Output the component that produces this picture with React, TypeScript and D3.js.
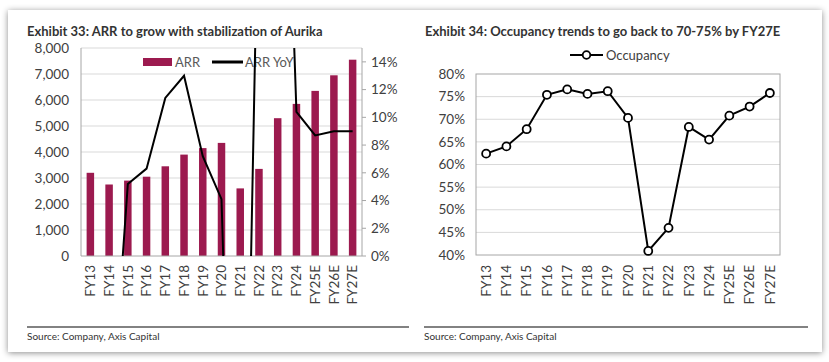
import React from "react";
import * as d3 from "d3";

const categories = [
  "FY13", "FY14", "FY15", "FY16", "FY17", "FY18", "FY19", "FY20",
  "FY21", "FY22", "FY23", "FY24", "FY25E", "FY26E", "FY27E",
];

// ARR (Rs), bars on left axis
const arr = [3200, 2750, 2900, 3050, 3450, 3900, 4150, 4350, 2600, 3350, 5300, 5850, 6350, 6950, 7550];

// ARR YoY (%), right axis; values outside 0-15% get clipped like in the source
const arrYoY: (number | null)[] = [null, -14, 5.2, 6.3, 11.4, 13.0, 7.2, 4.1, -40, 29, 50, 10.4, 8.7, 9.0, 9.0];

// Occupancy (%)
const occupancy = [62.4, 64.0, 67.8, 75.4, 76.6, 75.6, 76.2, 70.3, 40.9, 46.0, 68.3, 65.5, 70.8, 72.8, 75.8];

const arrTicks = [0, 1000, 2000, 3000, 4000, 5000, 6000, 7000, 8000];
const yoyTicks = [0, 2, 4, 6, 8, 10, 12, 14];
const occTicks = [40, 45, 50, 55, 60, 65, 70, 75, 80];

const FONT = "Lato, 'Open Sans', sans-serif";
const BAR = "#9c1a4f";
const TXT = "#404040";
const GRID = "#d9d9d9";
const AXIS = "#a6a6a6";

const fmt = d3.format(",");

function LeftChart() {
  const x0 = 81, x1 = 362, yTop = 48, yBot = 256;
  const x = d3.scaleBand<string>().domain(categories).range([x0, x1]).paddingInner(0.6).paddingOuter(0.3);
  const y = d3.scaleLinear().domain([0, 8000]).range([yBot, yTop]);
  const y2 = d3.scaleLinear().domain([0, 15]).range([yBot, yTop]);
  const cx = (c: string) => (x(c) as number) + x.bandwidth() / 2;

  const line = d3
    .line<number | null>()
    .defined((d) => d !== null)
    .x((_, i) => cx(categories[i]))
    .y((d) => y2(d as number));

  return (
    <g>
      <text x={27} y={36} fontSize={13} fontWeight="bold" fill="#333">
        Exhibit 33: ARR to grow with stabilization of Aurika
      </text>

      {arrTicks.slice(1).map((t) => (
        <line key={t} x1={x0} x2={x1} y1={y(t)} y2={y(t)} stroke={GRID} strokeWidth={1} />
      ))}

      {arr.map((v, i) => (
        <rect
          key={categories[i]}
          x={x(categories[i])}
          y={y(v)}
          width={x.bandwidth()}
          height={yBot - y(v)}
          fill={BAR}
        />
      ))}

      <line x1={x0} x2={x0} y1={yTop} y2={yBot} stroke={AXIS} />
      <line x1={x1} x2={x1} y1={yTop} y2={yBot} stroke={AXIS} />
      <line x1={x0} x2={x1} y1={yBot} y2={yBot} stroke={AXIS} />

      {arrTicks.map((t) => (
        <text key={t} x={69} y={y(t)} dy="0.35em" textAnchor="end" fontSize={13.5} fill={TXT}>
          {fmt(t)}
        </text>
      ))}

      {yoyTicks.map((t) => (
        <g key={t}>
          <line x1={x1} x2={x1 + 4} y1={y2(t)} y2={y2(t)} stroke={AXIS} />
          <text x={371} y={y2(t)} dy="0.35em" fontSize={13.5} fill={TXT}>
            {t}%
          </text>
        </g>
      ))}

      {categories.map((c) => (
        <text
          key={c}
          transform={`translate(${cx(c)},265) rotate(-90)`}
          dy="0.35em"
          textAnchor="end"
          fontSize={13.5}
          fill={TXT}
        >
          {c}
        </text>
      ))}

      {/* legend */}
      <rect x={143} y={58} width={29} height={8} fill={BAR} />
      <text x={175} y={62} dy="0.35em" fontSize={13} fill="#595959">ARR</text>
      <line x1={212} x2={243} y1={62} y2={62} stroke="#000" strokeWidth={3} />
      <text x={245} y={62} dy="0.35em" fontSize={13} fill="#595959">ARR YoY</text>

      <defs>
        <clipPath id="leftClip">
          <rect x={x0} y={yTop} width={x1 - x0} height={yBot - yTop} />
        </clipPath>
      </defs>
      <path
        d={line(arrYoY) || ""}
        fill="none"
        stroke="#000"
        strokeWidth={2}
        clipPath="url(#leftClip)"
      />

      <line x1={27} x2={409} y1={327} y2={327} stroke="#595959" strokeWidth={1.5} />
      <text x={27} y={340} fontSize={10} fill="#333">Source: Company, Axis Capital</text>
    </g>
  );
}

function RightChart() {
  const x0 = 476, x1 = 780, yTop = 74, yBot = 255;
  const x = d3.scalePoint<string>().domain(categories).range([x0, x1]).padding(0.5);
  const y = d3.scaleLinear().domain([40, 80]).range([yBot, yTop]);

  const line = d3
    .line<number>()
    .x((_, i) => x(categories[i]) as number)
    .y((d) => y(d));

  return (
    <g>
      <text x={425} y={36} fontSize={13} fontWeight="bold" fill="#333">
        Exhibit 34: Occupancy trends to go back to 70-75% by FY27E
      </text>

      {/* legend */}
      <line x1={570} x2={603} y1={55} y2={55} stroke="#000" strokeWidth={2} />
      <circle cx={586.5} cy={55} r={3.8} fill="#fff" stroke="#000" strokeWidth={1.8} />
      <text x={606} y={55} dy="0.35em" fontSize={13} fill={TXT}>Occupancy</text>

      {occTicks.slice(1, -1).map((t) => (
        <line key={t} x1={x0} x2={x1} y1={y(t)} y2={y(t)} stroke={GRID} strokeWidth={1} />
      ))}
      <rect x={x0} y={yTop} width={x1 - x0} height={yBot - yTop} fill="none" stroke={AXIS} />

      {occTicks.map((t) => (
        <text key={t} x={465} y={y(t)} dy="0.35em" textAnchor="end" fontSize={13.5} fill={TXT}>
          {t}%
        </text>
      ))}

      {categories.map((c) => (
        <text
          key={c}
          transform={`translate(${x(c)},265) rotate(-90)`}
          dy="0.35em"
          textAnchor="end"
          fontSize={13.5}
          fill={TXT}
        >
          {c}
        </text>
      ))}

      <path d={line(occupancy) || ""} fill="none" stroke="#000" strokeWidth={2} />
      {occupancy.map((v, i) => (
        <circle
          key={categories[i]}
          cx={x(categories[i])}
          cy={y(v)}
          r={4}
          fill="#fff"
          stroke="#000"
          strokeWidth={1.8}
        />
      ))}

      <line x1={424} x2={808} y1={327} y2={327} stroke="#595959" strokeWidth={1.5} />
      <text x={424} y={340} fontSize={10} fill="#333">Source: Company, Axis Capital</text>
    </g>
  );
}

export default function App() {
  return (
    <svg
      width={829}
      height={362}
      style={{ position: "absolute", left: 0, top: 0, display: "block" }}
      fontFamily={FONT}
    >
      <defs>
        <filter id="cardShadow" x="-5%" y="-10%" width="110%" height="120%">
          <feDropShadow dx={0} dy={1} stdDeviation={3} floodColor="#000" floodOpacity={0.45} />
        </filter>
      </defs>
      <rect width={829} height={362} fill="#fff" />
      <rect x={8} y={10} width={814} height={342} fill="#fff" filter="url(#cardShadow)" />
      <LeftChart />
      <RightChart />
    </svg>
  );
}
